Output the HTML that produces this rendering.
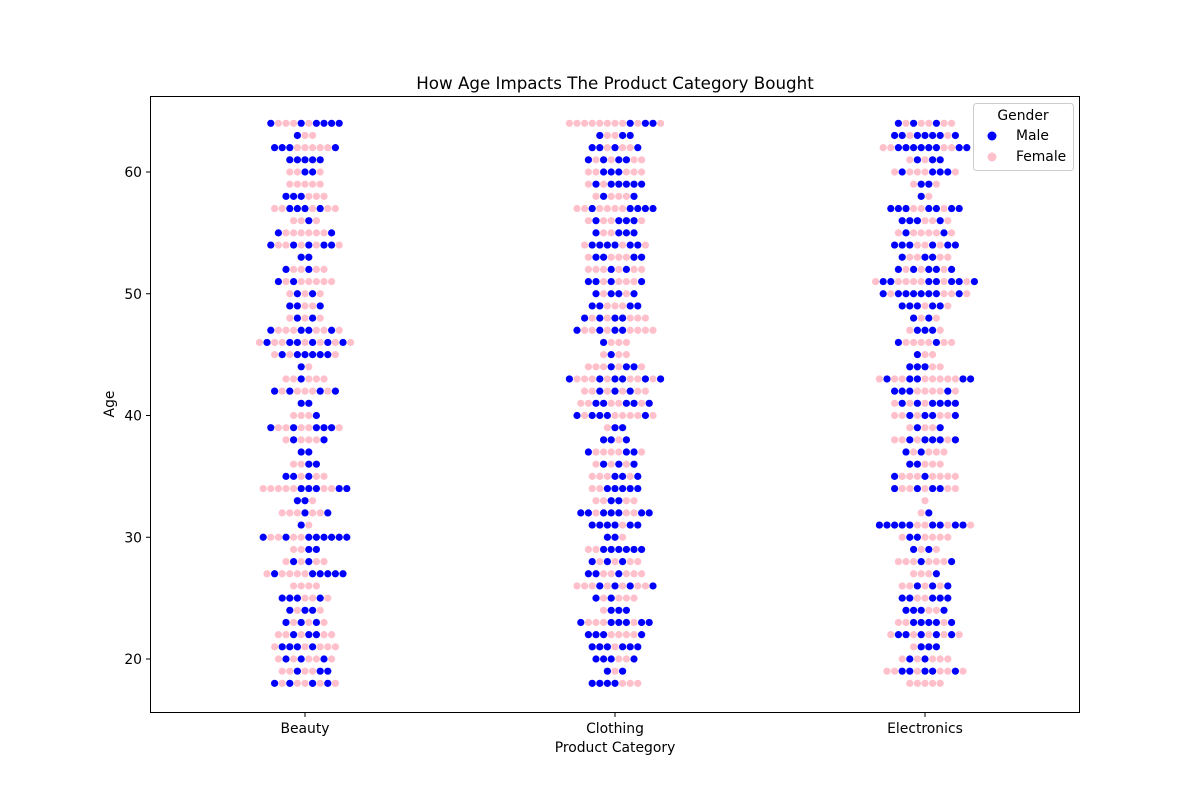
<!DOCTYPE html>
<html><head><meta charset="utf-8"><style>
body{margin:0;background:#fff;font-family:"DejaVu Sans","Liberation Sans",sans-serif;}
svg text{font-family:"DejaVu Sans","Liberation Sans",sans-serif;}
</style></head><body>
<svg id="chart" width="1200" height="800" xmlns="http://www.w3.org/2000/svg">
<rect width="1200" height="800" fill="#fff"/>
<text x="615" y="89" font-size="16.7" text-anchor="middle">How Age Impacts The Product Category Bought</text>
<g id="marks"></g>
<rect x="150.5" y="96.5" width="929" height="616" fill="none" stroke="#000" stroke-width="1"/>
<g id="axes"></g>
<text x="615" y="752" font-size="13.9" text-anchor="middle">Product Category</text>
<text transform="translate(114,404) rotate(-90)" font-size="13.9" text-anchor="middle">Age</text>
<g>
<rect x="973.5" y="103.5" width="100" height="67" rx="3" fill="#fff" stroke="#ccc"/>
<text x="1023" y="120" font-size="13.9" text-anchor="middle">Gender</text>
<circle cx="992" cy="136" r="4.5" fill="#0000ff"/>
<text x="1016" y="140" font-size="13.9">Male</text>
<circle cx="992" cy="157" r="4.5" fill="#ffc0cb"/>
<text x="1016" y="161" font-size="13.9">Female</text>
</g>
</svg>
<script>
const categories = ["Beauty","Clothing","Electronics"];
const yTicks = [20,30,40,50,60];
const ages = [64,63,62,61,60,59,58,57,56,55,54,53,52,51,50,49,48,47,46,45,44,43,42,41,40,39,38,37,36,35,34,33,32,31,30,29,28,27,26,25,24,23,22,21,20,19,18];
const beautyRows = ["MFFFMFMMMM","MFF","MMMFFFFFM","MMMMM","FFMMF","FFFFF","MMMFFF","FFMMMFMFF","FFMF","MFFFFFFM","MFFMFMFMMF","MM","MFFMFF","MFMFFFFF","FMFMF","MMFFM",
"FMFMF","MFFFMMFFMF","FMFFMMFMFMFMF","FMFMMMMMF","MF","FFMFFF","MFMFFFMFM","MM","FFFM","MFFMFFMMMF","FMFFFM","MM","FFMM","MMFMFF","FFFFFMMMFFMM","MMF",
"FFFMFFM","MF","MFFMFFMMMMMM","FFMM","FMFMFF","FMFFFFMMMMM","FFFF","MMMFFMF","MFMMF","MFMFMF","FFMFMMFF","FMMMFMFFF","FMFMFFMF","FFMFFMM","MFMFFMFMF"];
const clothingRows = ["FFFFFFFFMFMMF","MFFMM","MMFMFFM","MFMFMMFF","FFMMMFFF","FMFMMMMM","FMFFFM","FFMFFFFMMMM","FMFFMMMF","MFFMMM","FMMMMFMMF","FMMFFFMM","FFFMFMFF","MMFMFFFM","MFMMFM","MMFFFMM",
"MFMFMMFFF","MFFMFMMFFFF","MFFF","FMFF","FFFMFMMF","MFFFMFMMFFMFM","FFMFMFMFF","FFMMFFMMFM","MFMMMFFFFMF","FMM","MMFM","MFFFFMMF","FMFMFM","FFFMMFM","FFMMMMM","FFMMFF",
"MMFMMMFFMM","MMMMFMM","MMF","FFMMMMMM","MFMFMFF","MMFFMFFF","FFFMFMFMFFM","MFMFFF","FMMM","MFFFMMMFMM","MMMFFFFM","MMMFMMM","MMMFFM","MFM","MMMMFFF"];
const electronicsRows = ["MFMFFMFF","MMFMMMMFM","FFMMMMMMFFMM","FMFMM","FMFFFMMMF","FMMF","MF","MMMFFMMFMM","MMMFFMF","FMFFFFMF","MMMFFMFMM","MFFMMFF","MFMFMMFM","FMMFFFFMMFMMFM","MFMMMMMMFFMF","MMMFMMF",
"MFMF","FMMMF","MFFFFMFF","MFF","MMMFF","FMFFMMFFFFFMM","MMMFFFFMF","FMFMFMMMM","FFMFMMFFM","FMFFM","FFMFMMMFM","MFMFFF","MMFFF","MFFFMFFFF","MFFMFMMFF","F",
"FM","MMMMMFFMMFMMF","FMMFFFF","MFMF","FFFMFFFM","FFFM","FFMFMFM","MMFFMMM","MMMFFM","FFMMMMFM","FMMFMFMFMF","FMMM","FMFMFFF","FFMMFMMFFMF","FFFFF"];
const seriesRows = [beautyRows, clothingRows, electronicsRows];

const plotLeft=150, plotRight=1080;
function xScale(i){ return plotLeft + (i+0.5)*(plotRight-plotLeft)/categories.length; }
function yScale(age){ return 659 - (age-20)*12.175; }
const spacing = 7.6, radius = 3.6;
const NS="http://www.w3.org/2000/svg";
const marks=document.getElementById('marks');
seriesRows.forEach((rows,ci)=>{
  const g=document.createElementNS(NS,'g');
  
  
  marks.appendChild(g);
  rows.forEach((row,ri)=>{
    const n=row.length, cx0=xScale(ci)-(n-1)*spacing/2, cy=yScale(ages[ri]);
    for(let k=0;k<n;k++){
      const c=document.createElementNS(NS,'circle');
      c.setAttribute('cx',cx0+k*spacing);
      c.setAttribute('cy',cy);
      c.setAttribute('r',radius);
      c.setAttribute('fill',row[k]==='M'?'#0000ff':'#ffc0cb');
      
      
      g.appendChild(c);
    }
  });
});
const axes=document.getElementById('axes');
yTicks.forEach(t=>{
  const y=yScale(t);
  const l=document.createElementNS(NS,'line');
  l.setAttribute('x1',146);l.setAttribute('x2',150);l.setAttribute('y1',y);l.setAttribute('y2',y);l.setAttribute('stroke','#000');
  
  
  axes.appendChild(l);
  const tx=document.createElementNS(NS,'text');
  tx.setAttribute('x',142);tx.setAttribute('y',y+5);tx.setAttribute('font-size','13.9');tx.setAttribute('text-anchor','end');
  tx.textContent=t;
  
  
  axes.appendChild(tx);
});
categories.forEach((c,i)=>{
  const x=xScale(i);
  const l=document.createElementNS(NS,'line');
  l.setAttribute('x1',x);l.setAttribute('x2',x);l.setAttribute('y1',713);l.setAttribute('y2',717);l.setAttribute('stroke','#000');
  
  
  axes.appendChild(l);
  const tx=document.createElementNS(NS,'text');
  tx.setAttribute('x',x);tx.setAttribute('y',733);tx.setAttribute('font-size','13.9');tx.setAttribute('text-anchor','middle');
  tx.textContent=c;
  
  
  axes.appendChild(tx);
});
</script>
</body></html>
